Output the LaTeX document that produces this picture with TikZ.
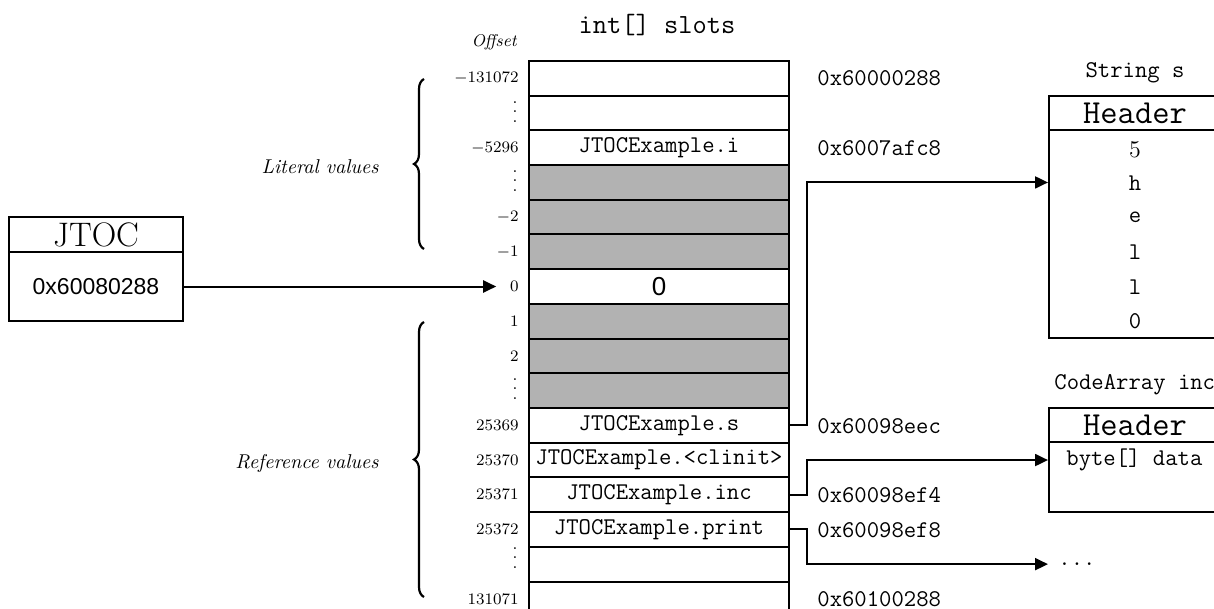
\documentclass[tikz,border=0pt]{standalone}
\usepackage{fontspec}
\newfontfamily\helv{Liberation Sans}
\usetikzlibrary{arrows.meta,decorations.pathreplacing,calc}
\newcommand\mydots{\vbox{\baselineskip4.6pt\lineskiplimit0pt\hbox{.}\hbox{.}\hbox{.}}}
\begin{document}
\begin{tikzpicture}[x=0.5pt,y=-0.5pt,
  slot/.style={draw,line width=1pt,minimum width=130pt,minimum height=17.35pt,inner sep=0pt,font=\fontsize{12}{14}\ttfamily},
  used/.style={slot,fill=gray!60},
  off/.style={anchor=east,inner sep=0pt,font=\fontsize{8.5}{10}\selectfont},
  addr/.style={anchor=west,inner sep=0pt,font=\fontsize{12}{14}\ttfamily},
  arr/.style={line width=1pt,-{Triangle[length=6.5pt,width=6pt]}},
  box/.style={draw,line width=1pt,inner sep=0pt},
  cell/.style={inner sep=0pt,font=\fontsize{12}{14}\ttfamily},
  bracedeco/.style={line width=1.1pt,decorate,decoration={brace,amplitude=5pt}},
  note/.style={anchor=east,inner sep=0pt,font=\fontsize{10}{12}\itshape}
]
\useasboundingbox (0,0) rectangle (1214,609);
\clip (0,0) rectangle (1214,609);

% title and header
\node[font=\fontsize{13.85}{16}\ttfamily] (title) at (657,25) {int[] slots};
\node[anchor=east,inner sep=0pt,font=\fontsize{8.5}{10}\itshape] (offh) at (517,42) {Offset};

% slots
\node[slot] (r0) at (659,78.35) {};
\node[slot] (r1) at (659,113.05) {};
\node[slot] (r2) at (659,147.75) {JTOCExample.i};
\node[used] (r3) at (659,182.45) {};
\node[used] (r4) at (659,217.15) {};
\node[used] (r5) at (659,251.85) {};
\node[slot,font=\fontsize{13}{15}\helv] (r6) at (659,286.55) {0};
\node[used] (r7) at (659,321.25) {};
\node[used] (r8) at (659,355.95) {};
\node[used] (r9) at (659,390.65) {};
\node[slot] (r10) at (659,425.35) {JTOCExample.s};
\node[slot] (r11) at (659,460.05) {JTOCExample.<clinit>};
\node[slot] (r12) at (659,494.75) {JTOCExample.inc};
\node[slot] (r13) at (659,529.45) {JTOCExample.print};
\node[slot] (r14) at (659,564.15) {};
\node[slot] (r15) at (659,598.85) {};

% offsets
\node[off] (o0) at (519,78.35) {$-131072$};
\node[off] (o1) at (518,112) {\mydots};
\node[off] (o2) at (519,147.75) {$-5296$};
\node[off] (o3) at (518,181) {\mydots};
\node[off] (o4) at (519,217.15) {$-2$};
\node[off] (o5) at (519,251.85) {$-1$};
\node[off] (o6) at (519,286.55) {$0$};
\node[off] (o7) at (519,321.25) {$1$};
\node[off] (o8) at (519,355.95) {$2$};
\node[off] (o9) at (518,389) {\mydots};
\node[off] (o10) at (519,425.35) {$25369$};
\node[off] (o11) at (519,460.05) {$25370$};
\node[off] (o12) at (519,494.75) {$25371$};
\node[off] (o13) at (519,529.45) {$25372$};
\node[off] (o14) at (518,558) {\mydots};
\node[off] (o15) at (519,598.85) {$131071$};

% braces
\draw[bracedeco] (424,249) -- (424,79);
\draw[bracedeco] (424,597) -- (424,322);
\node[note] (lit) at (379,167) {Literal values};
\node[note] (ref) at (379,463) {Reference values};

% addresses
\node[addr] (a0) at (817,78.35) {0x60000288};
\node[addr] (a2) at (817,147.75) {0x6007afc8};
\node[addr] (a10) at (817,426.5) {0x60098eec};
\node[addr] (a12) at (817,495.5) {0x60098ef4};
\node[addr] (a13) at (817,530.5) {0x60098ef8};
\node[addr] (a15) at (817,598.85) {0x60100288};

% JTOC box
\node[box,minimum width=87pt,minimum height=17.5pt,font=\fontsize{17}{20}\selectfont] (jh) at (96,234.5) {JTOC};
\node[box,minimum width=87pt,minimum height=34.5pt,font=\fontsize{11.5}{14}\helv] (jb) at (96,286.5) {0x60080288};
\draw[arr,shorten >=6.75pt] (jb.east) -- (jb.east -| o6.west);

% String s
\node[cell] (stitle) at (1135,73) {String s};
\node[box,minimum width=86pt,minimum height=17pt,font=\fontsize{16.8}{20}\ttfamily] (sh) at (1135,113) {Header};
\node[box,minimum width=86pt,minimum height=104pt] (sb) at (1135,234) {};
\node[cell,font=\fontsize{12}{14}\selectfont] (s1) at (1135,150) {5};
\node[cell] (s2) at (1135,183) {h};
\node[cell] (s3) at (1135,217) {e};
\node[cell] (s4) at (1135,252) {l};
\node[cell] (s5) at (1135,287) {l};
\node[cell] (s6) at (1135,321) {0};

% CodeArray inc
\node[cell,anchor=west] (ctitle) at (1054,385) {CodeArray inc};
\node[box,minimum width=86pt,minimum height=17pt,font=\fontsize{16.8}{20}\ttfamily] (ch) at (1135,425) {Header};
\node[box,minimum width=86pt,minimum height=35pt] (cb) at (1135,477) {};
\node[cell,anchor=west] (cdata) at (1066,460) {byte[] data};

% dots
\node[cell,anchor=west] (dots) at (1058,564.15) {...};

% connectors
\draw[arr] (r10.east) -- ++(17,0) |- (sb.west |- r3.center);
\draw[arr] (r12.east) -- ++(17,0) |- (cb.west |- r11.center);
\draw[arr,shorten >=5pt] (r13.east) -- ++(17,0) |- (dots.west |- r14.center);
\end{tikzpicture}
\end{document}
